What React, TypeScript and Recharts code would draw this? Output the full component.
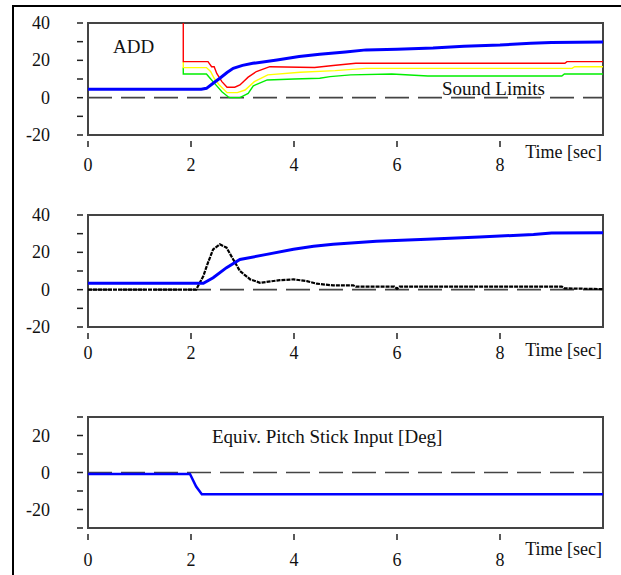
import React from 'react';
import { LineChart, Line, XAxis, YAxis, ReferenceLine, ReferenceArea } from 'recharts';

type Pt = [number, number];

// top panel: ADD + sound limits
const addBlue: Pt[] = [
  [0, 4.5], [2.2, 4.5], [2.3, 5], [2.43, 7.7], [2.56, 10.4], [2.7, 13.5], [2.82, 15.7],
  [3.0, 17.3], [3.2, 18.4], [3.67, 20.2], [4.1, 22], [4.5, 23.2], [5.0, 24.5], [5.4, 25.6],
  [6.0, 26], [6.7, 26.6], [7.3, 27.6], [8.0, 28.2], [8.6, 29.1], [9.0, 29.6], [10, 29.8],
];
const limitRed: Pt[] = [
  [1.85, 40], [1.85, 19.3], [2.33, 19.3], [2.4, 16.6], [2.45, 16.6], [2.5, 13], [2.6, 8.6],
  [2.7, 5.6], [2.85, 5.6], [2.95, 6.8], [3.11, 11], [3.27, 14], [3.53, 16.6], [4.4, 16.2],
  [4.76, 17.2], [5.2, 18.4], [9.26, 18.4], [9.3, 19.3], [10, 19.3],
];
const limitYellow: Pt[] = [
  [1.85, 19.3], [1.85, 16.1], [2.3, 16.1], [2.38, 14], [2.45, 10.4], [2.55, 6.8], [2.7, 2.7],
  [2.9, 2.7], [3.05, 4.1], [3.23, 8.6], [3.49, 12.2], [4.12, 13.6], [4.8, 14.5], [5.4, 15.7],
  [9.4, 15.7], [9.45, 16.6], [10, 16.6],
];
const limitGreen: Pt[] = [
  [1.85, 16.1], [1.85, 12.7], [2.3, 12.7], [2.37, 10.4], [2.5, 6.3], [2.6, 3.2], [2.72, 0.5],
  [2.75, 0], [2.95, 0], [3.11, 2.3], [3.21, 6.3], [3.48, 9.5], [4.0, 10], [4.5, 10.4],
  [4.7, 11.3], [5.1, 12.2], [5.9, 12.7], [6.6, 11.6], [9.2, 11.6], [9.25, 12.7], [10, 12.7],
];

// middle panel
const midBlue: Pt[] = [
  [0, 3.4], [2.24, 3.4], [2.43, 6.4], [2.69, 11.8], [2.95, 16.2], [3.47, 18.9], [3.99, 21.6],
  [4.38, 23.2], [4.76, 24.3], [5.6, 26], [6.58, 27], [7.6, 28.2], [8.65, 29.6], [9.0, 30.4],
  [10, 30.5],
];
const midBlack: Pt[] = [
  [0, 0], [2.1, 0], [2.24, 7.3], [2.33, 14.5], [2.43, 21.6], [2.56, 24.3], [2.69, 22.5],
  [2.82, 16.2], [2.95, 10], [3.15, 5.5], [3.34, 3.7], [3.73, 5.1], [3.99, 5.5], [4.25, 4.6],
  [4.44, 3.2], [4.76, 2.3], [5.15, 2.3], [5.2, 1.6], [5.95, 1.6], [6.0, 0.5], [6.05, 1.6],
  [9.2, 1.6], [9.25, 0.7], [10, 0.3],
];

// bottom panel: stick input
const stickBlue: Pt[] = [[0, -0.8], [1.98, -0.8], [2.1, -7.6], [2.21, -11.7], [10, -11.7]];

const timeTicks = [0, 2, 4, 6, 8];
const ticksTop = [-20, -10, 0, 10, 20, 30, 40];
const ticksBottom = [-30, -20, -10, 0, 10, 20, 30];

const toRows = (pts: Pt[]) => pts.map(([t, v]) => ({ t, v }));

const FONT = '"Liberation Serif", "DejaVu Serif", serif';
const FRAME = '#444';
const txt = { fontFamily: FONT, fontSize: 18, fill: '#111' };

const YTick = (props: any) => {
  const { x, y, payload } = props;
  const major = payload.value % 20 === 0;
  return (
    <g>
      <line x1={x - 11} x2={x - 5} y1={y} y2={y} stroke="#222" strokeWidth={1.5} />
      {major && (
        <text x={x - 38} y={y} textAnchor="end" dominantBaseline="central" style={txt}>
          {payload.value}
        </text>
      )}
    </g>
  );
};

const makeXTick = (labelDy: number) => (props: any) => {
  const { x, y, payload } = props;
  return (
    <g>
      <line x1={x} x2={x} y1={y + 6} y2={y + 12} stroke="#222" strokeWidth={1.5} />
      <text x={x} y={y + labelDy} textAnchor="middle" dominantBaseline="central" style={txt}>
        {payload.value}
      </text>
    </g>
  );
};

const timeLabel = (dy: number) => (props: any) => {
  const vb = props.viewBox;
  return (
    <text x={vb.x + vb.width - 1} y={vb.y + dy} textAnchor="end" dominantBaseline="central" style={txt}>
      Time [sec]
    </text>
  );
};

interface PanelProps {
  top: number;
  height: number;
  xAxisHeight: number;
  yDomain: [number, number];
  yTicks: number[];
  tickDy: number;
  labelDy: number;
  children: React.ReactNode;
}

const Panel = ({ top, height, xAxisHeight, yDomain, yTicks, tickDy, labelDy, children }: PanelProps) => (
  <div style={{ position: 'absolute', left: 0, top }}>
    <LineChart width={621} height={height} margin={{ top: 20, right: 18, bottom: 0, left: 0 }}>
      <XAxis
        type="number"
        dataKey="t"
        domain={[0, 10]}
        ticks={timeTicks}
        interval={0}
        height={xAxisHeight}
        axisLine={false}
        tickLine={false}
        tickSize={0}
        tickMargin={0}
        tick={makeXTick(tickDy)}
        allowDataOverflow
        label={{ content: timeLabel(labelDy) }}
      />
      <YAxis
        type="number"
        domain={yDomain}
        ticks={yTicks}
        interval={0}
        width={88}
        axisLine={false}
        tickLine={false}
        tickSize={0}
        tickMargin={0}
        tick={<YTick />}
        allowDataOverflow
      />
      <ReferenceArea x1={0} x2={10} y1={yDomain[0]} y2={yDomain[1]} fill="none" stroke={FRAME} strokeWidth={2} />
      <ReferenceLine y={0} stroke="#444" strokeWidth={1.6} strokeDasharray="24 9" />
      {children}
    </LineChart>
  </div>
);

const note = { fontFamily: FONT, fontSize: 19, fill: '#111' };

export default function App() {
  return (
    <div style={{ position: 'absolute', left: 0, top: 0, width: 621, height: 575, background: '#fff', fontFamily: FONT, overflow: 'hidden' }}>
      <div style={{ position: 'absolute', left: 12, top: 5, width: 609, height: 570, borderTop: '2px solid #000', borderLeft: '2px solid #000' }} />

      <Panel top={3} height={190} xAxisHeight={58} yDomain={[-20, 40]} yTicks={ticksTop} tickDy={30} labelDy={17}>
        <Line data={toRows(limitGreen)} dataKey="v" stroke="#00ee00" strokeWidth={1.4} dot={false} activeDot={false} isAnimationActive={false} />
        <Line data={toRows(limitYellow)} dataKey="v" stroke="#ffff00" strokeWidth={1.4} dot={false} activeDot={false} isAnimationActive={false} />
        <Line data={toRows(limitRed)} dataKey="v" stroke="#ff0000" strokeWidth={1.4} dot={false} activeDot={false} isAnimationActive={false} />
        <Line data={toRows(addBlue)} dataKey="v" stroke="#0000ff" strokeWidth={3} dot={false} activeDot={false} isAnimationActive={false} />
        <text x={113} y={43} dominantBaseline="central" style={note}>ADD</text>
        <text x={442} y={85} dominantBaseline="central" style={note}>Sound Limits</text>
      </Panel>

      <Panel top={195} height={190} xAxisHeight={58} yDomain={[-20, 40]} yTicks={ticksTop} tickDy={26} labelDy={23}>
        <Line data={toRows(midBlack)} dataKey="v" stroke="#000" strokeWidth={2.2} strokeDasharray="4 1" dot={false} activeDot={false} isAnimationActive={false} />
        <Line data={toRows(midBlue)} dataKey="v" stroke="#0000ff" strokeWidth={3} dot={false} activeDot={false} isAnimationActive={false} />
      </Panel>

      <Panel top={397} height={178} xAxisHeight={47} yDomain={[-30, 30]} yTicks={ticksBottom} tickDy={32} labelDy={21}>
        <Line data={toRows(stickBlue)} dataKey="v" stroke="#0000ff" strokeWidth={2.5} dot={false} activeDot={false} isAnimationActive={false} />
        <text x={212} y={39} dominantBaseline="central" style={note}>Equiv. Pitch Stick Input [Deg]</text>
      </Panel>
    </div>
  );
}
